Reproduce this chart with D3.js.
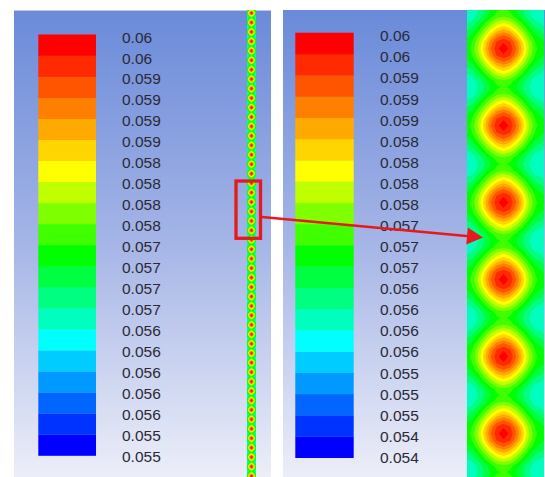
<!DOCTYPE html>
<html><head><meta charset="utf-8">
<script src="https://cdn.jsdelivr.net/npm/d3@7"></script>
<style>html,body{margin:0;padding:0;background:#fff;} svg{display:block}</style>
</head><body>
<svg id="c" width="545" height="477"></svg>
<script>
// colour bar bands, bottom (lowest) to top (highest)
const bandColors = ["#0000ff","#0033ff","#0066ff","#0099ff","#00ccff","#00ffff","#00ffbf","#00ff80","#00ff40","#00ff00",
                    "#40ff00","#80ff00","#bfff00","#ffff00","#ffd500","#ffaa00","#ff8000","#ff5500","#ff2a00","#ff0000"];
// legend labels, top to bottom
const labelsLeft  = ["0.06","0.06","0.059","0.059","0.059","0.059","0.058","0.058","0.058","0.058","0.057",
                     "0.057","0.057","0.057","0.056","0.056","0.056","0.056","0.056","0.055","0.055"];
const labelsRight = ["0.06","0.06","0.059","0.059","0.059","0.058","0.058","0.058","0.058","0.057","0.057",
                     "0.057","0.056","0.056","0.056","0.056","0.055","0.055","0.055","0.054","0.054"];
// one vertical period of the contour field, read off the zoomed view, in colour-bar band units (0 = bottom, 20 = top)
// rows run from a cold row (between hot spots) through a hot row and back; columns span the field width
const fieldTile = [
  [6.0, 6.3, 7.0, 8.0, 9.0, 9.8, 10.2, 9.8, 9.0, 8.0, 7.0, 6.3, 6.0],
  [6.2, 6.5, 7.3, 8.4, 9.6,10.5, 10.9,10.5, 9.6, 8.4, 7.3, 6.5, 6.2],
  [6.9, 7.2, 8.3, 9.7,11.2,12.4, 13.0,12.4,11.2, 9.7, 8.3, 7.2, 6.9],
  [7.8, 8.2, 9.5,11.2,12.9,14.3, 15.0,14.3,12.9,11.2, 9.5, 8.2, 7.8],
  [8.6, 9.2,10.7,12.7,14.7,16.5, 17.2,16.5,14.7,12.7,10.7, 9.2, 8.6],
  [9.3, 9.9,11.6,14.0,16.4,18.2, 18.9,18.2,16.4,14.0,11.6, 9.9, 9.3],
  [9.5,10.2,12.0,14.5,17.0,18.8, 19.6,18.8,17.0,14.5,12.0,10.2, 9.5],
  [9.3, 9.9,11.6,14.0,16.4,18.2, 18.9,18.2,16.4,14.0,11.6, 9.9, 9.3],
  [8.6, 9.2,10.7,12.7,14.7,16.5, 17.2,16.5,14.7,12.7,10.7, 9.2, 8.6],
  [7.8, 8.2, 9.5,11.2,12.9,14.3, 15.0,14.3,12.9,11.2, 9.5, 8.2, 7.8],
  [6.9, 7.2, 8.3, 9.7,11.2,12.4, 13.0,12.4,11.2, 9.7, 8.3, 7.2, 6.9],
  [6.2, 6.5, 7.3, 8.4, 9.6,10.5, 10.9,10.5, 9.6, 8.4, 7.3, 6.5, 6.2]
];

const svg = d3.select("#c");
const defs = svg.append("defs");
const grad = defs.append("linearGradient").attr("id","bg").attr("x1",0).attr("y1",0).attr("x2",0).attr("y2",1);
grad.append("stop").attr("offset","0").attr("stop-color","#6a8ad9");
grad.append("stop").attr("offset","0.5").attr("stop-color","#a5b5e6");
grad.append("stop").attr("offset","1").attr("stop-color","#eceef8");

const color = d3.scaleThreshold().domain(d3.range(1, 20)).range(bandColors);

function panel(x, w) {
  svg.append("rect").attr("x", x).attr("y", 10).attr("width", w).attr("height", 467).attr("fill", "url(#bg)");
}
panel(14, 257);
panel(283, 262);
svg.append("line").attr("x1",14).attr("x2",271).attr("y1",10.5).attr("y2",10.5).attr("stroke","#c4c8d8").attr("stroke-width",1);

function colorBar(x, w, top, bottom, labels, lx, ltop, lbottom) {
  const n = bandColors.length;
  const y = d3.scaleLinear().domain([n, 0]).range([top, bottom]);
  const g = svg.append("g");
  g.selectAll("rect").data(d3.range(n)).join("rect")
    .attr("x", x).attr("width", w)
    .attr("y", d => y(d + 1)).attr("height", d => y(d) - y(d + 1) + 0.3)
    .attr("fill", d => bandColors[d]);
  const ly = d3.scaleLinear().domain([0, labels.length - 1]).range([ltop, lbottom]);
  g.selectAll("text").data(labels).join("text")
    .attr("x", lx).attr("y", (d, i) => ly(i))
    .attr("dy", "0.36em")
    .attr("font-family", "'Liberation Sans', Arial, sans-serif")
    .attr("font-size", 15.5)
    .attr("fill", "#2a2a36")
    .text(d => d);
}
colorBar(38.3, 57.7, 34.5, 455.5, labelsLeft, 122, 37, 456);
colorBar(295.3, 58.4, 32.7, 457.7, labelsRight, 380, 35.7, 457.3);

let clipId = 0;
function drawField(cx0, cy0, step, nRows, clipRect) {
  const n = fieldTile[0].length;
  const values = [];
  for (let r = 0; r < nRows; r++) values.push(...fieldTile[r % fieldTile.length]);
  const contours = d3.contours().size([n, nRows]).thresholds(d3.range(0, 20))(values);
  const proj = d3.geoTransform({point(x, y) {
    this.stream.point(cx0 + (x - 0.5) * step, cy0 + (y - 0.5) * step);
  }});
  const path = d3.geoPath(proj);
  const id = "clip" + (clipId++);
  defs.append("clipPath").attr("id", id).append("rect")
    .attr("x", clipRect[0]).attr("y", clipRect[1]).attr("width", clipRect[2]).attr("height", clipRect[3]);
  svg.append("g").attr("clip-path", `url(#${id})`)
    .selectAll("path").data(contours).join("path")
    .attr("d", path).attr("fill", d => color(d.value));
}
// right zoomed field: period 77 px, hot spots at x≈503.5, first hot spot at y≈48.5
drawField(465, 10, 77 / 12, 80, [467, 10, 77, 467]);
// left strip: same field at small scale, period ≈ 9.45 px
drawField(251.5 - 6 * 9.45 / 12, 13 - 6 * 9.45 / 12, 9.45 / 12, 612, [247, 10, 9, 467]);

// highlight box and arrow
svg.append("rect").attr("x", 236).attr("y", 181).attr("width", 24.5).attr("height", 57.3)
  .attr("fill", "none").attr("stroke", "#e41a1c").attr("stroke-width", 3.3);
const p0 = [262, 217], tip = [483, 237.5];
const dx = tip[0] - p0[0], dy = tip[1] - p0[1], L = Math.hypot(dx, dy);
const ux = dx / L, uy = dy / L, hl = 16, hw = 8.5;
const base = [tip[0] - ux * hl, tip[1] - uy * hl];
svg.append("line").attr("x1", p0[0]).attr("y1", p0[1]).attr("x2", base[0] + ux * 2).attr("y2", base[1] + uy * 2)
  .attr("stroke", "#e8191c").attr("stroke-width", 2.6);
svg.append("path")
  .attr("d", `M${tip[0]},${tip[1]}L${base[0] - uy * hw},${base[1] + ux * hw}L${base[0] + uy * hw},${base[1] - ux * hw}Z`)
  .attr("fill", "#e8191c");
</script>
</body></html>
